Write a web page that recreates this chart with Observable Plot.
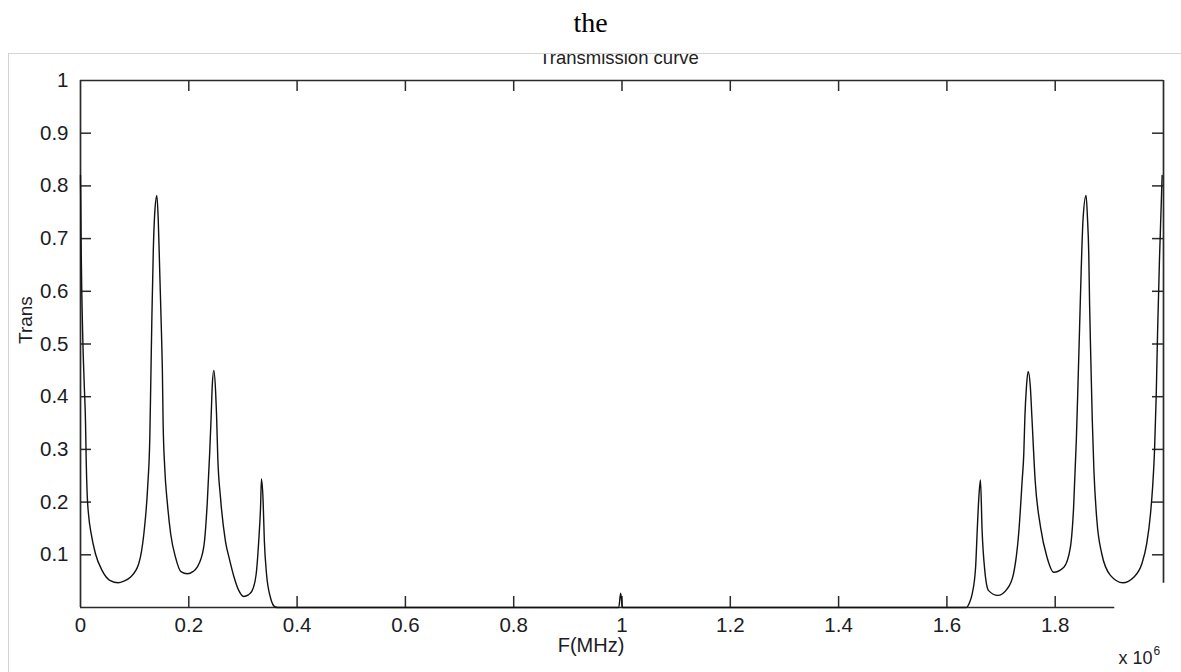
<!DOCTYPE html>
<html>
<head>
<meta charset="utf-8">
<script src="https://cdn.jsdelivr.net/npm/d3@7"></script>
<script src="https://cdn.jsdelivr.net/npm/@observablehq/plot@0.6"></script>
<style>
  html, body { margin: 0; padding: 0; background: #fff; width: 1181px; height: 672px; overflow: hidden; }
  #the { position: absolute; left: 0; top: 8px; width: 1181px; text-align: center; line-height: 30px;
         font-family: "Liberation Serif", "Times New Roman", serif; font-size: 28px; color: #000; }
  #box { position: absolute; left: 0; top: 53px; width: 1181px; height: 619px; overflow: hidden; }
  #box svg { position: absolute; left: 0; top: 0; }
  #title { position: absolute; left: 519px; width: 200px; top: -5px; text-align: center; line-height: 20px; z-index: 2;
           font-family: "Liberation Sans", Arial, sans-serif; font-size: 18.5px; color: #222; white-space: nowrap; }
  #bt { position: absolute; left: 8px; top: 53px; width: 1173px; height: 0; border-top: 1px solid #d4d4d4; z-index: 3; }
  #bl { position: absolute; left: 8px; top: 53px; width: 0; height: 619px; border-left: 1px solid #d4d4d4; z-index: 3; }
</style>
</head>
<body>
<div id="the">the</div>
<div id="box"><div id="title">Transmission curve</div></div>
<div id="bt"></div>
<div id="bl"></div>
<script>
// ---- data (frequency in MHz, i.e. x 10^6 Hz; transmission) ----
const freqMHz = [
  0.0000, 0.0015, 0.0040, 0.0070, 0.0092, 0.0105, 0.0123, 0.0150, 0.0197, 0.0276,
  0.0400, 0.0550, 0.0695, 0.0800, 0.0920, 0.1075, 0.1170, 0.1240, 0.1280, 0.1300,
  0.1320, 0.1345, 0.1375, 0.1410, 0.1435, 0.1466, 0.1500, 0.1512, 0.1525, 0.1555,
  0.1605, 0.1665, 0.1755, 0.1855, 0.1975, 0.2075, 0.2155, 0.2275, 0.2340, 0.2385,
  0.2410, 0.2435, 0.2462, 0.2495, 0.2512, 0.2535, 0.2585, 0.2675, 0.2755, 0.2835,
  0.2920, 0.3015, 0.3100, 0.3170, 0.3245, 0.3292, 0.3325, 0.3342, 0.3372, 0.3395,
  0.3435, 0.3505, 0.3595, 0.3650,
  0.9940, 0.9975, 1.0010,
  1.6360, 1.6420, 1.6467, 1.6530, 1.6560, 1.6590, 1.6620, 1.6650, 1.6700, 1.6770,
  1.6940, 1.7110, 1.7230, 1.7330, 1.7390, 1.7420, 1.7440, 1.7470, 1.7500, 1.7540,
  1.7570, 1.7630, 1.7730, 1.7850, 1.7970, 1.8160, 1.8280, 1.8340, 1.8390, 1.8420,
  1.8450, 1.8480, 1.8515, 1.8570, 1.8595, 1.8620, 1.8635, 1.8660, 1.8685, 1.8715,
  1.8770, 1.8860, 1.9020, 1.9250, 1.9450, 1.9600, 1.9690, 1.9760, 1.9800, 1.9835,
  1.9865, 1.9890, 1.9925, 1.9975
];
const trans = [
  0.820, 0.660, 0.520, 0.420, 0.355, 0.280, 0.215, 0.175, 0.140, 0.102,
  0.070, 0.051, 0.047, 0.050, 0.0575, 0.083, 0.140, 0.228, 0.323, 0.440,
  0.560, 0.680, 0.755, 0.782, 0.738, 0.627, 0.503, 0.450, 0.355, 0.266,
  0.197, 0.140, 0.095, 0.068, 0.064, 0.068, 0.0765, 0.114, 0.197, 0.292,
  0.355, 0.424, 0.450, 0.410, 0.367, 0.285, 0.209, 0.127, 0.090, 0.058,
  0.033, 0.021, 0.024, 0.032, 0.064, 0.127, 0.190, 0.244, 0.203, 0.127,
  0.064, 0.020, 0.001, 0.000,
  0.000, 0.027, 0.000,
  0.000, 0.010, 0.026, 0.0765, 0.146, 0.209, 0.242, 0.146, 0.070, 0.032,
  0.023, 0.035, 0.064, 0.146, 0.241, 0.292, 0.361, 0.420, 0.448, 0.420,
  0.361, 0.241, 0.152, 0.095, 0.067, 0.0765, 0.114, 0.190, 0.317, 0.420,
  0.530, 0.640, 0.738, 0.782, 0.741, 0.670, 0.576, 0.462, 0.355, 0.260,
  0.165, 0.102, 0.061, 0.047, 0.0575, 0.083, 0.121, 0.178, 0.230, 0.300,
  0.400, 0.519, 0.658, 0.820
];
const xLabelValues = [0, 0.2, 0.4, 0.6, 0.8, 1, 1.2, 1.4, 1.6, 1.8];
const xLabelTexts  = ["0", "0.2", "0.4", "0.6", "0.8", "1", "1.2", "1.4", "1.6", "1.8"];
const yLabelValues = [0.1, 0.2, 0.3, 0.4, 0.5, 0.6, 0.7, 0.8, 0.9, 1];
const yLabelTexts  = ["0.1", "0.2", "0.3", "0.4", "0.5", "0.6", "0.7", "0.8", "0.9", "1"];
const xTickMarks = [0.2, 0.4, 0.6, 0.8, 1, 1.2, 1.4, 1.6, 1.8];
const yTickMarks = [0.1, 0.2, 0.3, 0.4, 0.5, 0.6, 0.7, 0.8, 0.9];
const xDomain = [0, 2];
const yDomain = [0, 1];
const bottomAxisEnd = 1.91;   // visible end of the bottom axis line
const rightAxisStart = 0.046; // visible start of the right axis line

// ---- layout ----
const W = 1181, H = 619, mL = 80, mR = 18, mT = 27, mB = 65;
const fw = W - mL - mR, fh = H - mT - mB, tl = 11;
const axisColor = "#2a2a2a";
const fs = 20.5;

const data = freqMHz.map((f, i) => ({f, t: trans[i]}));
const xLab = new Map(xLabelValues.map((v, i) => [v, xLabelTexts[i]]));
const yLab = new Map(yLabelValues.map((v, i) => [v, yLabelTexts[i]]));

const chart = Plot.plot({
  width: W, height: H,
  marginLeft: mL, marginRight: mR, marginTop: mT, marginBottom: mB,
  style: {background: "transparent", fontFamily: "'Liberation Sans', Arial, sans-serif", fontSize: fs + "px", color: "#1c1c24"},
  x: {domain: xDomain},
  y: {domain: yDomain},
  marks: [
    Plot.axisX({ticks: xLabelValues, tickSize: 0, tickPadding: 10, tickFormat: d => xLab.get(d), fontSize: fs, label: null}),
    Plot.axisY({ticks: yLabelValues, tickSize: 0, tickPadding: 12, tickFormat: d => yLab.get(d), fontSize: fs, label: null}),
    // box lines
    Plot.ruleY([yDomain[1]], {x1: () => xDomain[0], x2: () => xDomain[1], stroke: axisColor, strokeWidth: 1.7}),
    Plot.ruleY([yDomain[0]], {x1: () => xDomain[0], x2: () => bottomAxisEnd, stroke: axisColor, strokeWidth: 1.7}),
    Plot.ruleX([xDomain[0]], {y1: () => yDomain[0], y2: () => yDomain[1], stroke: axisColor, strokeWidth: 1.7}),
    Plot.ruleX([xDomain[1]], {y1: () => rightAxisStart, y2: () => yDomain[1], stroke: axisColor, strokeWidth: 1.7}),
    // inward ticks
    Plot.tickX(xTickMarks, {x: d => d, insetTop: fh - tl, stroke: axisColor, strokeWidth: 1.5}),
    Plot.tickX(xTickMarks, {x: d => d, insetBottom: fh - tl, stroke: axisColor, strokeWidth: 1.5}),
    Plot.tickY(yTickMarks, {y: d => d, insetRight: fw - tl, stroke: axisColor, strokeWidth: 1.5}),
    Plot.tickY(yTickMarks, {y: d => d, insetLeft: fw - tl, stroke: axisColor, strokeWidth: 1.5}),
    // curve
    Plot.line(data, {x: "f", y: "t", stroke: "#111", strokeWidth: 1.4, curve: "monotone-x"}),
    // labels
    Plot.text(["Trans"], {text: d => d, frameAnchor: "left", dx: -55, rotate: -90, fontSize: 19}),
    Plot.text(["F(MHz)"], {text: d => d, frameAnchor: "bottom", dx: -31, dy: 44, fontSize: 20}),
    Plot.text(["x 10"], {text: d => d, frameAnchor: "bottom-right", dx: -11, dy: 56, textAnchor: "end", fontSize: 18}),
    Plot.text(["6"], {text: d => d, frameAnchor: "bottom-right", dx: -10, dy: 47, textAnchor: "start", fontSize: 12})
  ]
});
document.getElementById("box").prepend(chart);
</script>
</body>
</html>
